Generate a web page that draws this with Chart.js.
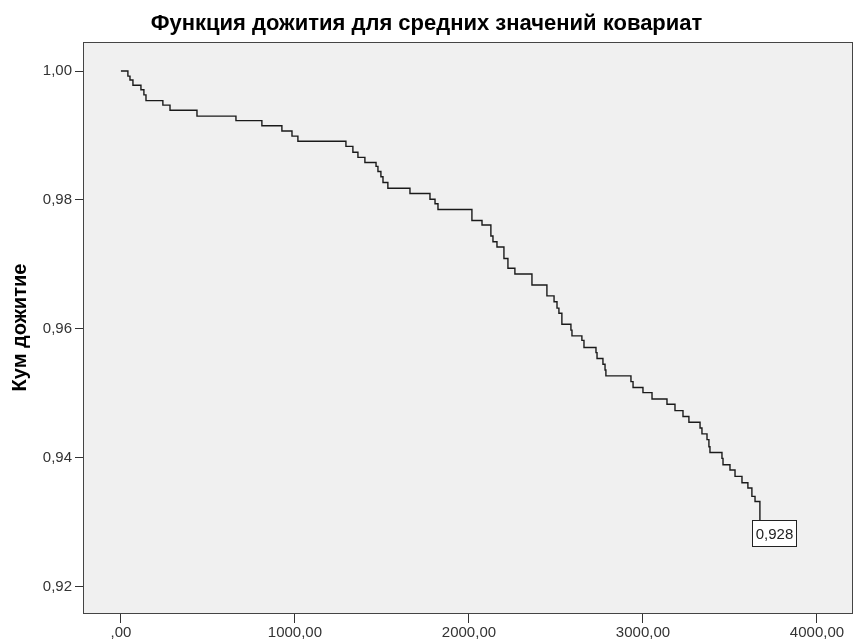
<!DOCTYPE html>
<html lang="ru">
<head>
<meta charset="utf-8">
<title>Функция дожития</title>
<script src="https://cdn.jsdelivr.net/npm/chart.js@4.4.1/dist/chart.umd.min.js"></script>
<style>
  html, body { margin: 0; padding: 0; background: #ffffff; }
  #wrap { width: 855px; height: 641px; }
</style>
</head>
<body>
<div id="wrap"><canvas id="survivalChart" width="855" height="641"></canvas></div>
<script>
// Заголовки
const chartTitle = 'Функция дожития для средних значений ковариат';
const yAxisTitle = 'Кум дожитие';

// Моменты событий (дни) и кумулятивная доля дожития после каждого события
const eventTimes = [
  40, 52, 69, 115, 132, 144, 241, 282, 437, 661, 810, 925, 983, 1017,
  1293, 1333, 1362, 1402, 1466, 1477, 1494, 1506, 1534, 1661, 1776, 1805, 1822,
  2017, 2075, 2126, 2138, 2161, 2201, 2224, 2264, 2362,
  2448, 2489, 2506, 2517, 2534, 2586, 2592, 2649, 2661, 2730, 2736, 2770, 2782, 2787,
  2931, 2943, 3000, 3052, 3138, 3184, 3230, 3264,
  3328, 3339, 3368, 3379, 3385, 3454, 3460, 3500, 3529, 3569, 3603, 3626, 3644, 3672
];
const survival = [
  0.9992, 0.9986, 0.9978, 0.9971, 0.9963, 0.9954, 0.9947, 0.9939, 0.9930, 0.9923, 0.9915, 0.9907, 0.9899, 0.9891,
  0.9883, 0.9874, 0.9866, 0.9858, 0.9852, 0.9844, 0.9836, 0.9827, 0.9818, 0.9810, 0.9801, 0.9794, 0.9785,
  0.9768, 0.9761, 0.9744, 0.9735, 0.9727, 0.9709, 0.9694, 0.9685, 0.9668,
  0.9651, 0.9642, 0.9632, 0.9624, 0.9607, 0.9598, 0.9589, 0.9582, 0.9571, 0.9563, 0.9554, 0.9545, 0.9536, 0.9527,
  0.9518, 0.9509, 0.9501, 0.9491, 0.9483, 0.9473, 0.9464, 0.9455,
  0.9446, 0.9437, 0.9428, 0.9417, 0.9408, 0.9399, 0.9389, 0.9381, 0.9371, 0.9361, 0.9353, 0.9340, 0.9332, 0.928
];

// Деления осей
const xTickValues = [0, 1000, 2000, 3000, 4000];
const yTickValues = [0.92, 0.94, 0.96, 0.98, 1.00];

const AXIS_FONT = '"Liberation Sans", Arial, sans-serif';

// Формат чисел с запятой, ноль как ",00"
function formatNum(v) {
    if (v === 0) return ',00';
    return v.toFixed(2).replace('.', ',');
}

const points = [{ x: 0, y: 1 }].concat(
    eventTimes.map((t, i) => ({ x: t, y: survival[i] }))
);

// Серый фон области построения и рамка вокруг неё
const plotFrame = {
    id: 'plotFrame',
    beforeDraw(chart) {
        const { ctx, chartArea: a } = chart;
        ctx.save();
        ctx.fillStyle = '#f0f0f0';
        ctx.fillRect(a.left, a.top, a.right - a.left, a.bottom - a.top);
        ctx.restore();
    },
    beforeDatasetsDraw(chart) {
        const { ctx, chartArea: a } = chart;
        ctx.save();
        ctx.strokeStyle = '#444';
        ctx.lineWidth = 1;
        ctx.strokeRect(Math.round(a.left) + 0.5, Math.round(a.top) + 0.5,
            Math.round(a.right - a.left) - 1, Math.round(a.bottom - a.top));
        ctx.restore();
    }
};

// Подпись последнего значения в рамке
const lastValueLabel = {
    id: 'lastValueLabel',
    afterDatasetsDraw(chart) {
        const meta = chart.getDatasetMeta(0);
        const last = meta.data[meta.data.length - 1];
        const value = survival[survival.length - 1];
        const text = value.toFixed(3).replace('.', ',');
        const { ctx } = chart;
        const w = 44, h = 26;
        const bx = Math.round(last.x) - 7.5, by = Math.round(last.y) - 14.5;
        ctx.save();
        ctx.fillStyle = '#ffffff';
        ctx.fillRect(bx, by, w, h);
        ctx.strokeStyle = '#222';
        ctx.lineWidth = 1;
        ctx.strokeRect(bx, by, w, h);
        ctx.fillStyle = '#222';
        ctx.font = '15px ' + AXIS_FONT;
        ctx.textAlign = 'center';
        ctx.textBaseline = 'middle';
        ctx.fillText(text, bx + w / 2, by + h / 2 + 1);
        ctx.restore();
    }
};

new Chart(document.getElementById('survivalChart'), {
    type: 'line',
    data: {
        datasets: [{
            data: points,
            stepped: true,
            borderColor: '#1a1a1a',
            borderWidth: 1.4,
            pointRadius: 0,
            fill: false
        }]
    },
    options: {
        responsive: false,
        animation: false,
        devicePixelRatio: 1,
        layout: { padding: { left: 0, right: 2, top: 0, bottom: 0 } },
        plugins: {
            legend: { display: false },
            tooltip: { enabled: false },
            title: {
                display: true,
                text: chartTitle,
                color: '#000',
                font: { family: AXIS_FONT, size: 22, weight: 'bold' },
                padding: { top: 11, bottom: 4.6 }
            }
        },
        scales: {
            x: {
                type: 'linear',
                min: -218,
                max: 4207,
                afterBuildTicks: s => { s.ticks = xTickValues.map(v => ({ value: v })); },
                afterFit: s => { s.height = 28; },
                border: { display: false },
                grid: { drawOnChartArea: false, drawTicks: true, tickLength: 10, tickColor: '#333', tickWidth: 1 },
                ticks: {
                    color: '#333',
                    padding: 1,
                    maxRotation: 0,
                    font: { family: AXIS_FONT, size: 15 },
                    callback: v => formatNum(v)
                }
            },
            y: {
                type: 'linear',
                min: 0.9159,
                max: 1.0045,
                afterBuildTicks: s => { s.ticks = yTickValues.map(v => ({ value: v })); },
                afterFit: s => { s.width = 83; },
                border: { display: false },
                grid: { drawOnChartArea: false, drawTicks: true, tickLength: 8, tickColor: '#333', tickWidth: 1 },
                title: {
                    display: true,
                    text: yAxisTitle,
                    color: '#000',
                    font: { family: AXIS_FONT, size: 20, weight: 'bold' },
                    padding: { top: 8, bottom: 0 }
                },
                ticks: {
                    color: '#333',
                    padding: 3,
                    font: { family: AXIS_FONT, size: 15 },
                    callback: v => formatNum(v)
                }
            }
        }
    },
    plugins: [plotFrame, lastValueLabel]
});
</script>
</body>
</html>
